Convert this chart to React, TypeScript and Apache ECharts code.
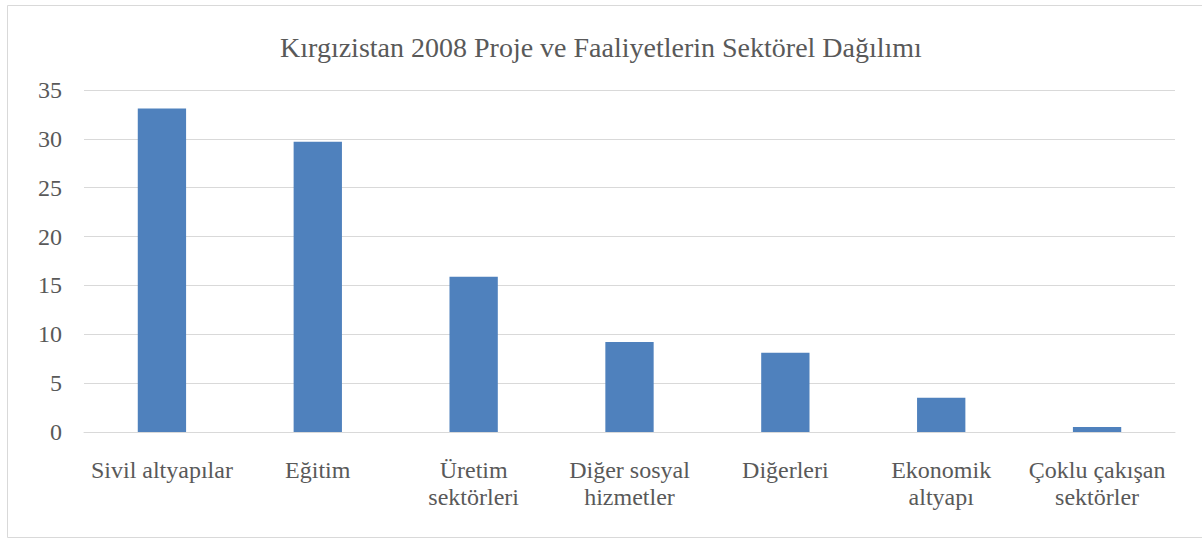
import React, { useEffect, useRef } from "react";
import * as echarts from "echarts";

const titleText = "Kırgızistan 2008 Proje ve Faaliyetlerin Sektörel Dağılımı";
const categories = [
  "Sivil altyapılar",
  "Eğitim",
  "Üretim\nsektörleri",
  "Diğer sosyal\nhizmetler",
  "Diğerleri",
  "Ekonomik\naltyapı",
  "Çoklu çakışan\nsektörler",
];
const values = [33.1, 29.7, 15.9, 9.2, 8.1, 3.5, 0.5];
const yMin = 0;
const yMax = 35;
const yInterval = 5;

const FONT = "'Liberation Serif', 'Times New Roman', serif";
const TEXT = "#595959";

export default function App() {
  const ref = useRef<HTMLDivElement>(null);
  useEffect(() => {
    if (!ref.current) return;
    const chart = echarts.init(ref.current, undefined, { renderer: "svg" });
    chart.setOption({
      animation: false,
      backgroundColor: "#ffffff",
      title: {
        text: titleText,
        left: "center",
        top: 28,
        textStyle: { fontFamily: FONT, fontSize: 28, fontWeight: "normal", color: TEXT },
      },
      graphic: [
        {
          type: "rect",
          shape: { x: 7.5, y: 5.5, width: 1200, height: 532 },
          style: { fill: "none", stroke: "#d9d9d9", lineWidth: 1 },
          silent: true,
        },
      ],
      grid: { left: 84, right: 27, top: 90, bottom: 107, containLabel: false },
      xAxis: {
        type: "category",
        data: categories,
        axisLine: { show: true, lineStyle: { color: "#d9d9d9", width: 1 } },
        axisTick: { show: false },
        axisLabel: {
          interval: 0,
          margin: 24,
          fontFamily: FONT,
          fontSize: 24,
          lineHeight: 27,
          color: TEXT,
        },
      },
      yAxis: {
        type: "value",
        min: yMin,
        max: yMax,
        interval: yInterval,
        axisLine: { show: false },
        axisTick: { show: false },
        splitLine: { lineStyle: { color: "#d9d9d9", width: 1 } },
        axisLabel: { margin: 22, fontFamily: FONT, fontSize: 24, color: TEXT },
      },
      series: [
        {
          type: "bar",
          data: values,
          barWidth: "31%",
          itemStyle: { color: "#4f81bd" },
        },
      ],
    });
    return () => chart.dispose();
  }, []);
  return (
    <div
      ref={ref}
      style={{ position: "fixed", left: 0, top: 0, width: 1202, height: 539 }}
    />
  );
}
